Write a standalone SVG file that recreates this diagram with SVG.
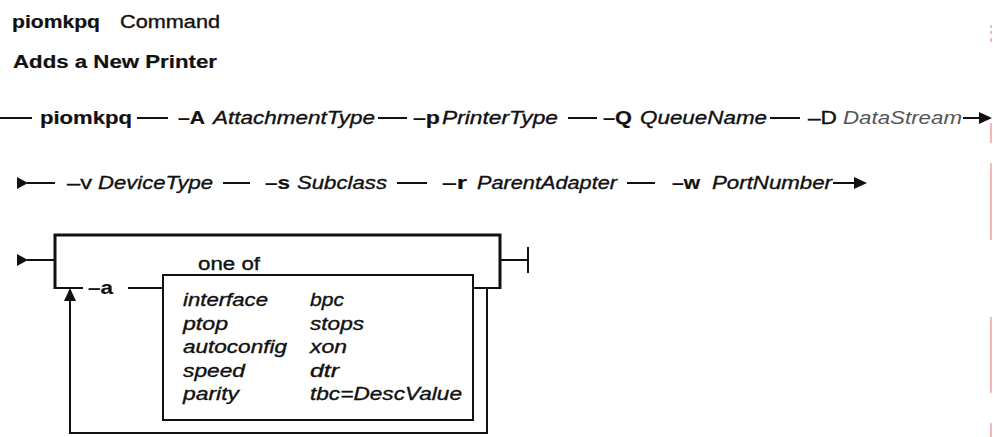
<svg xmlns="http://www.w3.org/2000/svg" width="993" height="437" viewBox="0 0 993 437">
<style>
  text { font-family: "Liberation Sans", Arial, Helvetica, sans-serif; font-size: 19px; fill: #111; stroke: #111; stroke-width: 0.35; }
  .b { font-weight: bold; stroke-width: 0.2; }
  .i { font-style: italic; }
  .s18 { font-size: 18px; }
  .gray { fill: #555; stroke: none; }
  .ln { stroke: #111; stroke-width: 2; fill: none; }
  .thick { stroke-width: 3; }
  .ah { fill: #111; stroke: none; }
  .red { stroke: #f2a0a0; stroke-width: 1.5; fill: none; }
</style>
<rect width="993" height="437" fill="#fff"/>

<g id="title">
  <text class="b s18" x="12" y="28" textLength="88" lengthAdjust="spacingAndGlyphs">piomkpq</text>
  <text class="s18" x="120" y="28" textLength="100" lengthAdjust="spacingAndGlyphs">Command</text>
  <text class="b s18" x="13" y="68" textLength="204" lengthAdjust="spacingAndGlyphs">Adds a New Printer</text>
</g>

<g id="connectors">
  <!-- row 1 -->
  <path class="ln" d="M0 118 H32 M137 118 H168 M378 118 H407 M568 118 H597 M770 118 H800 M963 118 H982"/>
  <polygon class="ah" points="979,112 992,118 979,124"/>
  <!-- row 2 -->
  <polygon class="ah" points="17,177 28,183 17,189"/>
  <path class="ln" d="M27 183 H55 M223 183 H250 M397 183 H427 M627 183 H655 M833 183 H856"/>
  <polygon class="ah" points="854,177 867,183 854,189"/>
  <!-- row 3 -->
  <polygon class="ah" points="17,254 28,260 17,266"/>
  <path class="ln" d="M27 260 H55"/>
  <path class="ln thick" d="M55 289 V235 H500 V289"/>
  <path class="ln" d="M55 288 H83 M128 288 H163 M473 288 H500"/>
  <path class="ln" d="M500 260 H528 M528 247 V273"/>
  <path class="ln" d="M487 288 V433 H70 V300"/>
  <polygon class="ah" points="64,301 70,288 76,301"/>
</g>

<g id="row1">
  <text class="b" x="40" y="124" textLength="92" lengthAdjust="spacingAndGlyphs">piomkpq</text>
  <text class="b" x="178" y="124" textLength="27" lengthAdjust="spacingAndGlyphs">–A</text>
  <text class="i" x="213" y="124" textLength="162" lengthAdjust="spacingAndGlyphs">AttachmentType</text>
  <text class="b" x="413" y="124" textLength="27" lengthAdjust="spacingAndGlyphs">–p</text>
  <text class="i" x="442" y="124" textLength="116" lengthAdjust="spacingAndGlyphs">PrinterType</text>
  <text class="b" x="603" y="124" textLength="29" lengthAdjust="spacingAndGlyphs">–Q</text>
  <text class="i" x="640" y="124" textLength="127" lengthAdjust="spacingAndGlyphs">QueueName</text>
  <text x="808" y="124" textLength="29" lengthAdjust="spacingAndGlyphs">–D</text>
  <text class="i gray" x="843" y="124" textLength="119" lengthAdjust="spacingAndGlyphs">DataStream</text>
</g>

<g id="row2">
  <text x="67" y="189" textLength="25" lengthAdjust="spacingAndGlyphs">–v</text>
  <text class="i" x="98" y="189" textLength="115" lengthAdjust="spacingAndGlyphs">DeviceType</text>
  <text class="b" x="265" y="189" textLength="25" lengthAdjust="spacingAndGlyphs">–s</text>
  <text class="i" x="297" y="189" textLength="90" lengthAdjust="spacingAndGlyphs">Subclass</text>
  <text class="b" x="442" y="189" textLength="25" lengthAdjust="spacingAndGlyphs">–r</text>
  <text class="i" x="477" y="189" textLength="140" lengthAdjust="spacingAndGlyphs">ParentAdapter</text>
  <text class="b" x="672" y="189" textLength="28" lengthAdjust="spacingAndGlyphs">–w</text>
  <text class="i" x="712" y="189" textLength="120" lengthAdjust="spacingAndGlyphs">PortNumber</text>
</g>

<g id="flag-a">
  <text class="b" x="88" y="294" textLength="25" lengthAdjust="spacingAndGlyphs">–a</text>
</g>

<g id="one-of">
  <text class="s18" x="198" y="270" textLength="62" lengthAdjust="spacingAndGlyphs">one of</text>
  <rect class="ln" x="163" y="275" width="310" height="145"/>
  <text class="i s18" x="183" y="306" textLength="85" lengthAdjust="spacingAndGlyphs">interface</text>
  <text class="i s18" x="183" y="329.5" textLength="45" lengthAdjust="spacingAndGlyphs">ptop</text>
  <text class="i s18" x="183" y="353" textLength="104" lengthAdjust="spacingAndGlyphs">autoconfig</text>
  <text class="i s18" x="183" y="376.5" textLength="62" lengthAdjust="spacingAndGlyphs">speed</text>
  <text class="i s18" x="183" y="400" textLength="56" lengthAdjust="spacingAndGlyphs">parity</text>
  <text class="i s18" x="310" y="306" textLength="34" lengthAdjust="spacingAndGlyphs">bpc</text>
  <text class="i s18" x="310" y="329.5" textLength="54" lengthAdjust="spacingAndGlyphs">stops</text>
  <text class="i s18" x="310" y="353" textLength="37" lengthAdjust="spacingAndGlyphs">xon</text>
  <text class="i s18" x="310" y="376.5" textLength="29" lengthAdjust="spacingAndGlyphs">dtr</text>
  <text class="i s18" x="310" y="400" textLength="152" lengthAdjust="spacingAndGlyphs">tbc=DescValue</text>
</g>

<path class="red" d="M991 25 V28 M991 31 V34 M991 38 V42 M991 123 V143 M991 163 V240 M991 317 V393 M991 423 V437"/>
</svg>
